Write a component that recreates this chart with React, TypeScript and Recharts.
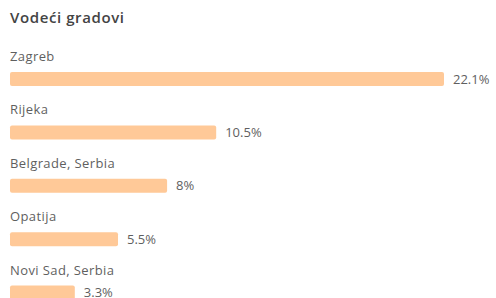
import { BarChart, Bar, XAxis, YAxis, LabelList } from 'recharts';

const cities = ['Zagreb', 'Rijeka', 'Belgrade, Serbia', 'Opatija', 'Novi Sad, Serbia'];
const shares = [22.1, 10.5, 8, 5.5, 3.3];

const data = cities.map((city, i) => ({ city, share: shares[i] }));

const FONT = '"Open Sans", "Noto Sans", sans-serif';

function CityLabel(props: any) {
  const { y, value } = props;
  return (
    <text x={10} y={y - 11} fontSize={13} fill="#5f5f5f" fontFamily={FONT} letterSpacing={0.4}>
      {value}
    </text>
  );
}

export default function App() {
  return (
    <div
      style={{
        position: 'absolute',
        left: 0,
        top: 0,
        width: 496,
        height: 298,
        overflow: 'hidden',
        background: '#fff',
        fontFamily: FONT,
      }}
    >
      <div
        style={{
          position: 'absolute',
          left: 10,
          top: 7,
          fontSize: 15,
          fontWeight: 600,
          color: '#444',
          letterSpacing: 0.6,
          lineHeight: 'normal',
        }}
      >
        Vodeći gradovi
      </div>
      <BarChart
        width={496}
        height={320}
        data={data}
        layout="vertical"
        margin={{ top: 52, right: 52, bottom: 1, left: 10 }}
      >
        <XAxis type="number" domain={[0, 22.1]} hide />
        <YAxis type="category" dataKey="city" hide />
        <Bar dataKey="share" fill="#ffc998" barSize={14} radius={2} isAnimationActive={false}>
          <LabelList dataKey="city" content={<CityLabel />} />
          <LabelList
            dataKey="share"
            position="right"
            offset={9}
            fontSize={13}
            fill="#5f5f5f"
            fontFamily={FONT}
            formatter={(v: any) => `${v}%`}
          />
        </Bar>
      </BarChart>
    </div>
  );
}
